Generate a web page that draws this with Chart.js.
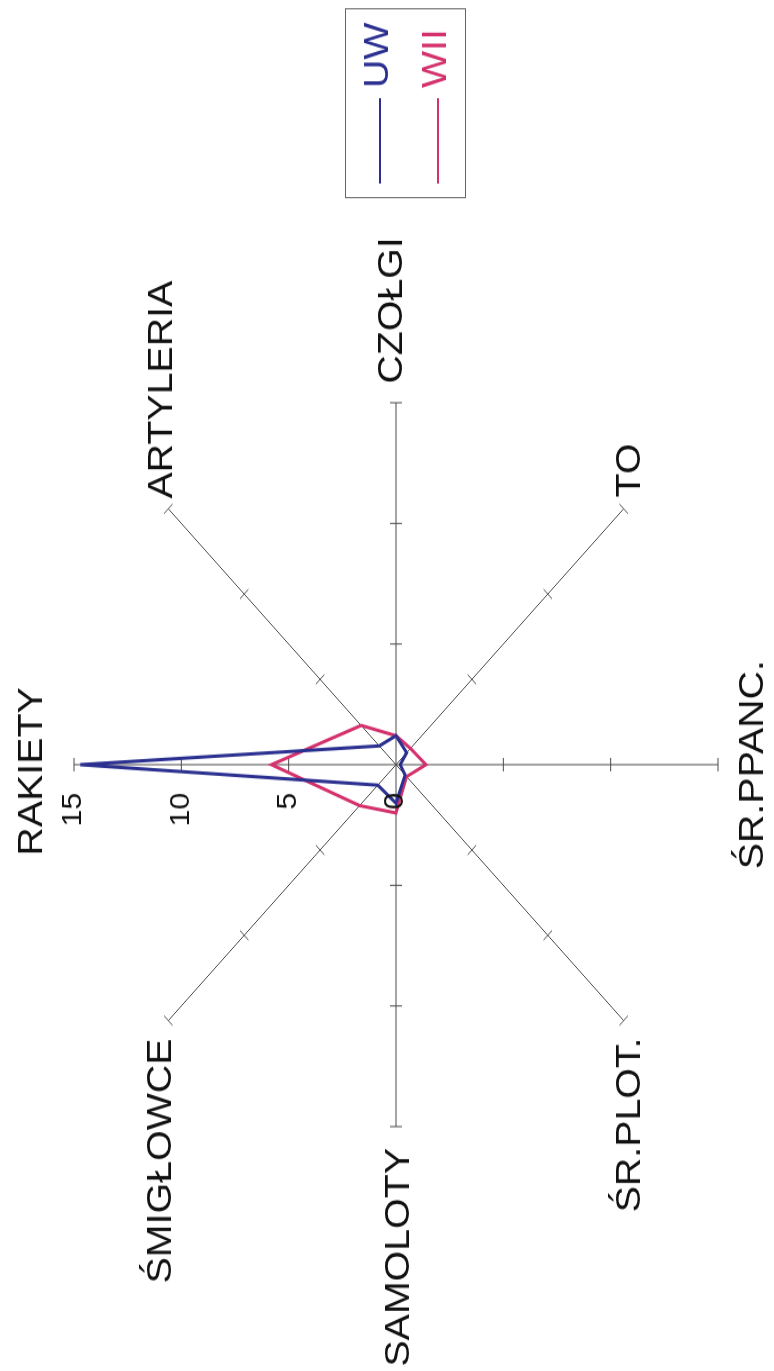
<!DOCTYPE html>
<html lang="pl">
<head>
<meta charset="utf-8">
<title>UW / WII</title>
<script src="https://cdn.jsdelivr.net/npm/chart.js@4.4.1/dist/chart.umd.min.js"></script>
<style>
  html, body { margin: 0; padding: 0; background: #fff; overflow: hidden; }
  body { width: 774px; height: 1371px; position: relative; }
  /* wykres obrócony o 90 stopni, lekko rozciągnięty wzdłuż osi pionowej ekranu */
  #obrot {
    position: absolute; left: -223px; top: 298.5px;
    width: 1220px; height: 774px;
    transform-origin: 50% 50%;
    transform: rotate(-90deg) scaleX(1.124);
  }
</style>
</head>
<body>
<div id="obrot"><canvas id="radar" width="1220" height="774"></canvas></div>
<script>
// DANE
const kategorie = ['RAKIETY', 'ARTYLERIA', 'CZOŁGI', 'TO', 'ŚR.PPANC.', 'ŚR.PLOT.', 'SAMOLOTY', 'ŚMIGŁOWCE'];
const wartosciUW = [14.7, 1.1, 1.2, 0.7, 0.2, 0.6, 1.6, 1.2];
const wartosciWII = [5.8, 2.3, 1.2, 0.95, 1.4, 0.7, 2.0, 2.4];
const podzialka = [0, 5, 10, 15];

const CZCIONKA = '"Liberation Sans", Arial, sans-serif';

// kreski podziałki na osiach, opisy osi, liczby skali i legenda w ramce
const opisy = {
  id: 'opisy',
  beforeDatasetsDraw(chart) {
    const s = chart.scales.r;
    const ctx = chart.ctx;
    ctx.save();
    ctx.strokeStyle = '#4a4a4a';
    ctx.lineWidth = 1;
    kategorie.forEach((_, i) => {
      s.ticks.forEach(t => {
        if (t.value === 0) return;
        const p = s.getPointPosition(i, s.getDistanceFromCenterForValue(t.value));
        const nx = -Math.sin(p.angle) * 6;
        const ny = Math.cos(p.angle) * 6;
        ctx.beginPath();
        ctx.moveTo(p.x - nx, p.y - ny);
        ctx.lineTo(p.x + nx, p.y + ny);
        ctx.stroke();
      });
    });
    ctx.restore();
  },
  afterDraw(chart, args, opts) {
    const s = chart.scales.r;
    const ctx = chart.ctx;
    ctx.save();

    // nazwy osi
    ctx.fillStyle = '#111';
    ctx.font = '35px ' + CZCIONKA;
    ctx.textBaseline = 'alphabetic';
    kategorie.forEach((nazwa, i) => {
      const p = s.getPointPosition(i, s.drawingArea);
      const [dx, dy, wyr] = opts.przesuniecia[i];
      ctx.textAlign = wyr;
      ctx.fillText(nazwa, p.x + dx, p.y + dy);
    });

    // liczby skali obok pierwszej osi
    ctx.font = '27px ' + CZCIONKA;
    ctx.textAlign = 'right';
    ctx.textBaseline = 'middle';
    s.ticks.forEach(t => {
      ctx.fillText(String(t.value), s.xCenter - 25, s.yCenter - s.getDistanceFromCenterForValue(t.value));
    });

    // legenda
    const [lx, ly, lw, lh] = opts.legenda;
    ctx.strokeStyle = '#666';
    ctx.lineWidth = 1;
    ctx.strokeRect(lx + 0.5, ly + 0.5, lw, lh);
    ctx.font = '35px ' + CZCIONKA;
    ctx.textAlign = 'left';
    ctx.textBaseline = 'alphabetic';
    chart.data.datasets.forEach((ds, i) => {
      const yl = ly + 35 + 58 * i;
      ctx.strokeStyle = ds.borderColor;
      ctx.lineWidth = 2;
      ctx.beginPath();
      ctx.moveTo(lx + 13, yl);
      ctx.lineTo(lx + 89, yl);
      ctx.stroke();
      ctx.fillStyle = ds.borderColor;
      ctx.fillText(ds.label, lx + 98, ly + 43 + 58 * i);
    });
    ctx.restore();
  }
};

new Chart(document.getElementById('radar'), {
  type: 'radar',
  data: {
    labels: kategorie,
    datasets: [
      {
        label: 'UW',
        data: wartosciUW,
        borderColor: '#2b3090',
        borderWidth: 3,
        fill: false,
        pointRadius: 0,
        pointHoverRadius: 0
      },
      {
        label: 'WII',
        data: wartosciWII,
        borderColor: '#d3306c',
        borderWidth: 3,
        fill: false,
        pointRadius: 0,
        pointHoverRadius: 0
      }
    ]
  },
  options: {
    responsive: false,
    animation: false,
    events: [],
    layout: { padding: { left: 218, top: 74.5, right: 358, bottom: 55.5 } },
    plugins: {
      legend: { display: false },
      tooltip: { enabled: false },
      opisy: {
        przesuniecia: [
          [-6, -32, 'center'],
          [9, 4, 'left'],
          [17, 6, 'left'],
          [10, 16, 'left'],
          [0, 45, 'center'],
          [-15, 16, 'right'],
          [-19, 13, 'right'],
          [-16, 3, 'right']
        ],
        legenda: [1044, 345, 168, 120]
      }
    },
    scales: {
      r: {
        min: 0,
        max: 15,
        ticks: { display: false, stepSize: 5 },
        afterBuildTicks: scale => {
          scale.ticks = podzialka.map(v => ({ value: v }));
        },
        grid: { display: false },
        angleLines: { display: true, color: '#4a4a4a', lineWidth: 1 },
        pointLabels: { display: false }
      }
    }
  },
  plugins: [opisy]
});
</script>
</body>
</html>
